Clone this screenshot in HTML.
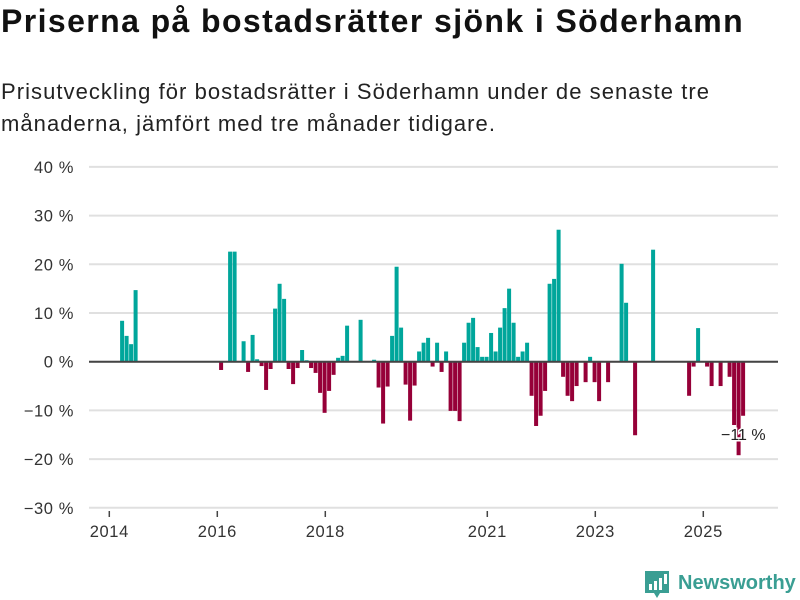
<!DOCTYPE html>
<html><head><meta charset="utf-8"><style>
body{margin:0;background:#fff;font-family:"Liberation Sans","DejaVu Sans",sans-serif;}
#wrap{position:relative;width:800px;height:600px;overflow:hidden;}
h1{position:absolute;left:1px;top:3px;margin:0;font-size:32px;font-weight:bold;color:#111;letter-spacing:1.4px;white-space:nowrap;}
p{position:absolute;left:1px;top:76px;margin:0;font-size:22px;line-height:32px;color:#222;width:740px;letter-spacing:1.05px;}
</style></head><body>
<div id="wrap">
<h1>Priserna på bostadsrätter sjönk i Söderhamn</h1>
<p>Prisutveckling för bostadsrätter i Söderhamn under de senaste tre<br>månaderna, jämfört med tre månader tidigare.</p>
<svg id="chart" width="800" height="600" style="position:absolute;left:0;top:0"></svg>
</div>
<script>
const months=[2,3,4,5,24,26,27,29,30,31,32,33,34,35,36,37,38,39,40,41,42,43,44,45,46,47,48,49,50,51,52,55,58,59,60,61,62,63,64,65,66,67,68,69,70,71,72,73,74,75,76,77,78,79,80,81,82,83,84,85,86,87,88,89,90,91,92,93,94,95,96,97,98,99,100,101,102,103,105,106,107,108,110,113,114,116,120,128,129,130,132,133,135,137,138,139,140];
const values=[8.4,5.3,3.6,14.7,-1.7,22.6,22.6,4.2,-2.1,5.5,0.5,-0.9,-5.8,-1.5,10.9,16.0,12.9,-1.5,-4.6,-1.3,2.4,0.3,-1.3,-2.3,-6.4,-10.5,-6.0,-2.7,0.8,1.2,7.4,8.6,0.4,-5.3,-12.7,-5.1,5.3,19.5,7.0,-4.7,-12.1,-4.9,2.1,3.9,4.9,-1.0,3.9,-2.1,2.1,-10.1,-10.1,-12.2,3.9,8.0,9.0,3.0,1.0,1.0,5.9,2.1,7.0,11.0,15.0,8.0,1.0,2.1,3.9,-7.0,-13.2,-11.1,-6.0,16.0,17.0,27.1,-3.1,-7.0,-8.1,-5.0,-4.2,1.0,-4.2,-8.1,-4.2,20.1,12.1,-15.1,23.0,-7.0,-1.0,6.9,-1.0,-5.0,-5.0,-3.1,-13.0,-19.2,-11.1];
const yTicks=[40,30,20,10,0,-10,-20,-30];
const yTickLabels=["40 %","30 %","20 %","10 %","0 %","−10 %","−20 %","−30 %"];
const xTickMonths=[0,24,48,84,108,132];
const xTickLabels=["2014","2016","2018","2021","2023","2025"];
const lastLabel="−11 %";

const svg=document.getElementById('chart');
const NS='http://www.w3.org/2000/svg';
const y=v=>361.7-v*4.87;
const x=m=>109.3+m*4.5;
function mk(t,a){const e=document.createElementNS(NS,t);for(const k in a)e.setAttribute(k,a[k]);svg.appendChild(e);return e;}
yTicks.forEach((t,i)=>{
  const g=mk('line',{x1:89,x2:778,y1:y(t),y2:y(t),stroke:'#e0e0e0','stroke-width':2});
  
  
  const l=mk('text',{x:74,y:y(t)+6,'text-anchor':'end','font-size':16.5,fill:'#333','letter-spacing':'0.6','font-family':'Liberation Sans, sans-serif'});
  l.textContent=yTickLabels[i];
  
  
});
xTickMonths.forEach((m,i)=>{
  const t=mk('line',{x1:x(m),x2:x(m),y1:511,y2:517,stroke:'#444','stroke-width':1.5});
  
  
  const l=mk('text',{x:x(m),y:537,'text-anchor':'middle','font-size':16.5,fill:'#333','letter-spacing':'0.6','font-family':'Liberation Sans, sans-serif'});
  l.textContent=xTickLabels[i];
  
  
});
months.forEach((m,i)=>{
  const v=values[i];
  const b=mk('rect',{x:x(m)+1.8,width:4,y:Math.min(y(v),y(0)),height:Math.abs(y(v)-y(0)),fill:v>=0?'#00a69b':'#960038'});
  
  
});
const z=mk('line',{x1:89,x2:778,y1:y(0),y2:y(0),stroke:'#444','stroke-width':2});


const lm=months[months.length-1];
const lab=mk('text',{x:x(lm)+4,y:y(values[values.length-1])+24,'text-anchor':'middle','font-size':16,fill:'#222',stroke:'#fff','stroke-width':3,'paint-order':'stroke','font-family':'Liberation Sans, sans-serif'});
lab.textContent=lastLabel;


// logo
const lg=mk('g',{});


const r=document.createElementNS(NS,'path');
r.setAttribute('d','M645 571 h24 v22 h-9 l-3 5 l-3 -5 h-9 z');r.setAttribute('fill','#3a9e93');lg.appendChild(r);
[[649,584,3,6],[654,581,3,9],[659,578,3,12],[664,574,3,10]].forEach(a=>{const q=document.createElementNS(NS,'rect');q.setAttribute('x',a[0]);q.setAttribute('y',a[1]);q.setAttribute('width',a[2]);q.setAttribute('height',a[3]);q.setAttribute('fill','#fff');lg.appendChild(q);});
const tt=document.createElementNS(NS,'text');
tt.setAttribute('x',678);tt.setAttribute('y',589);tt.setAttribute('font-size',20);tt.setAttribute('font-weight','bold');tt.setAttribute('fill','#3a9e93');tt.setAttribute('font-family','Liberation Sans, sans-serif');
tt.textContent='Newsworthy';lg.appendChild(tt);
svg.appendChild(lg);
</script>
</body></html>
